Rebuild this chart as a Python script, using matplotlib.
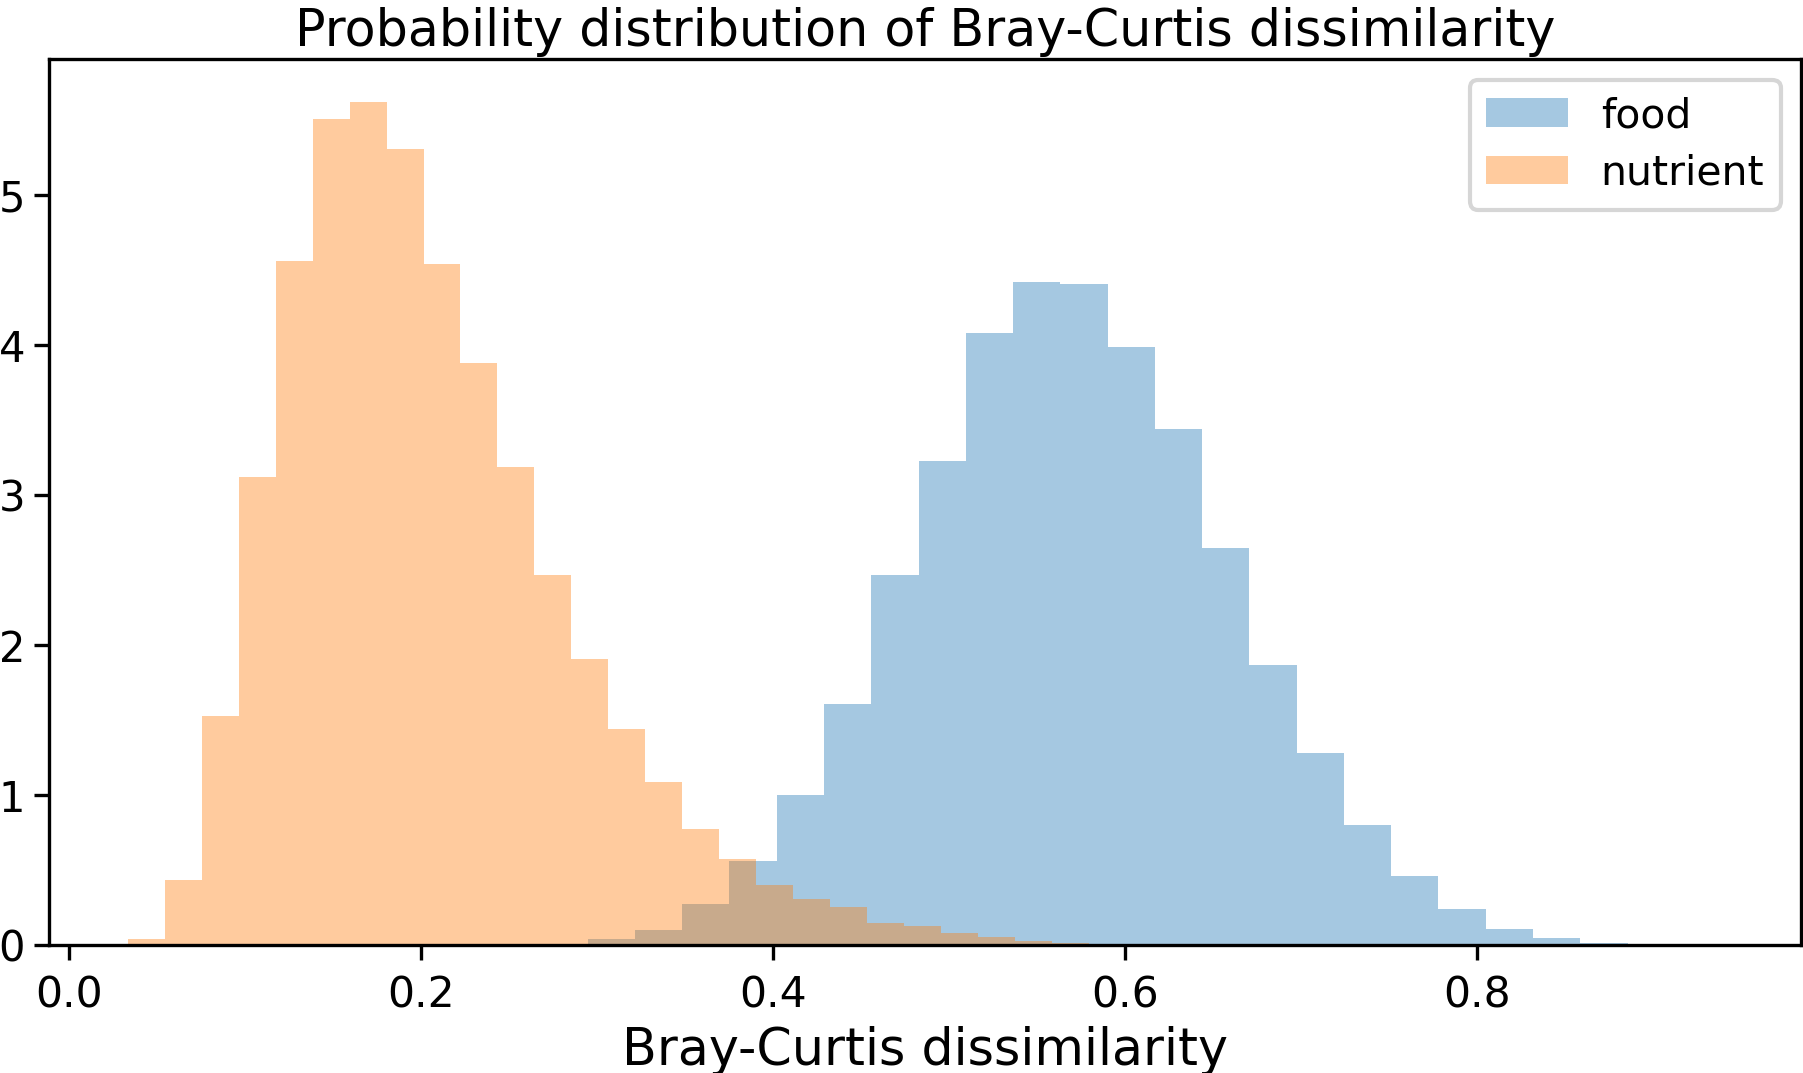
import numpy as np
import matplotlib
matplotlib.use("Agg")
import matplotlib.pyplot as plt

# ---- data (density per bin) ----
food_bin_start = 0.1335
food_bin_width = 0.02685
food_density = [0.0, 0.0, 0.0, 0.0, 0.003, 0.009, 0.04, 0.10, 0.273, 0.56,
                1.00, 1.61, 2.47, 3.23, 4.08, 4.42, 4.41, 3.99, 3.44, 2.65,
                1.87, 1.28, 0.80, 0.46, 0.24, 0.105, 0.045, 0.011, 0.002, 0.001]

nutrient_bin_start = 0.0334
nutrient_bin_width = 0.0210
nutrient_density = [0.038, 0.433, 1.53, 3.12, 4.56, 5.51, 5.62, 5.31, 4.54, 3.88,
                    3.19, 2.47, 1.91, 1.44, 1.09, 0.773, 0.571, 0.40, 0.307, 0.253,
                    0.147, 0.13, 0.078, 0.053, 0.026, 0.012, 0.004, 0.002, 0.001, 0.0005]

labels = ["food", "nutrient"]
title = "Probability distribution of Bray-Curtis dissimilarity"
xlabel = "Bray-Curtis dissimilarity"

# ---- figure ----
fig = plt.figure(figsize=(1803 / 300, 1073 / 300), dpi=300)
ax = fig.add_axes([48.7 / 1803, 1 - 945 / 1073, (1801 - 48.7) / 1803, (945 - 59.3) / 1073])

def edges_for(start, width, n):
    return start + width * np.arange(n + 1)

f_edges = edges_for(food_bin_start, food_bin_width, len(food_density))
n_edges = edges_for(nutrient_bin_start, nutrient_bin_width, len(nutrient_density))

ax.hist(0.5 * (f_edges[:-1] + f_edges[1:]), bins=f_edges, weights=food_density,
        alpha=0.4, color="C0", label=labels[0])
ax.hist(0.5 * (n_edges[:-1] + n_edges[1:]), bins=n_edges, weights=nutrient_density,
        alpha=0.4, color="C1", label=labels[1])

ax.set_xlim(-0.0115, 0.9838)
ax.set_ylim(0, 5.905)
ax.set_xticks([0.0, 0.2, 0.4, 0.6, 0.8])
ax.set_yticks([0, 1, 2, 3, 4, 5])
ax.tick_params(axis="x", labelsize=10.2)
ax.tick_params(axis="y", labelsize=10, pad=2.2)
ax.set_title(title, fontsize=12.2, pad=3.2)
ax.set_xlabel(xlabel, fontsize=12.2, labelpad=2.4)
ax.legend(loc="upper right", fontsize=9.8, labelspacing=0.42)

fig.savefig("out.png", dpi=300)
